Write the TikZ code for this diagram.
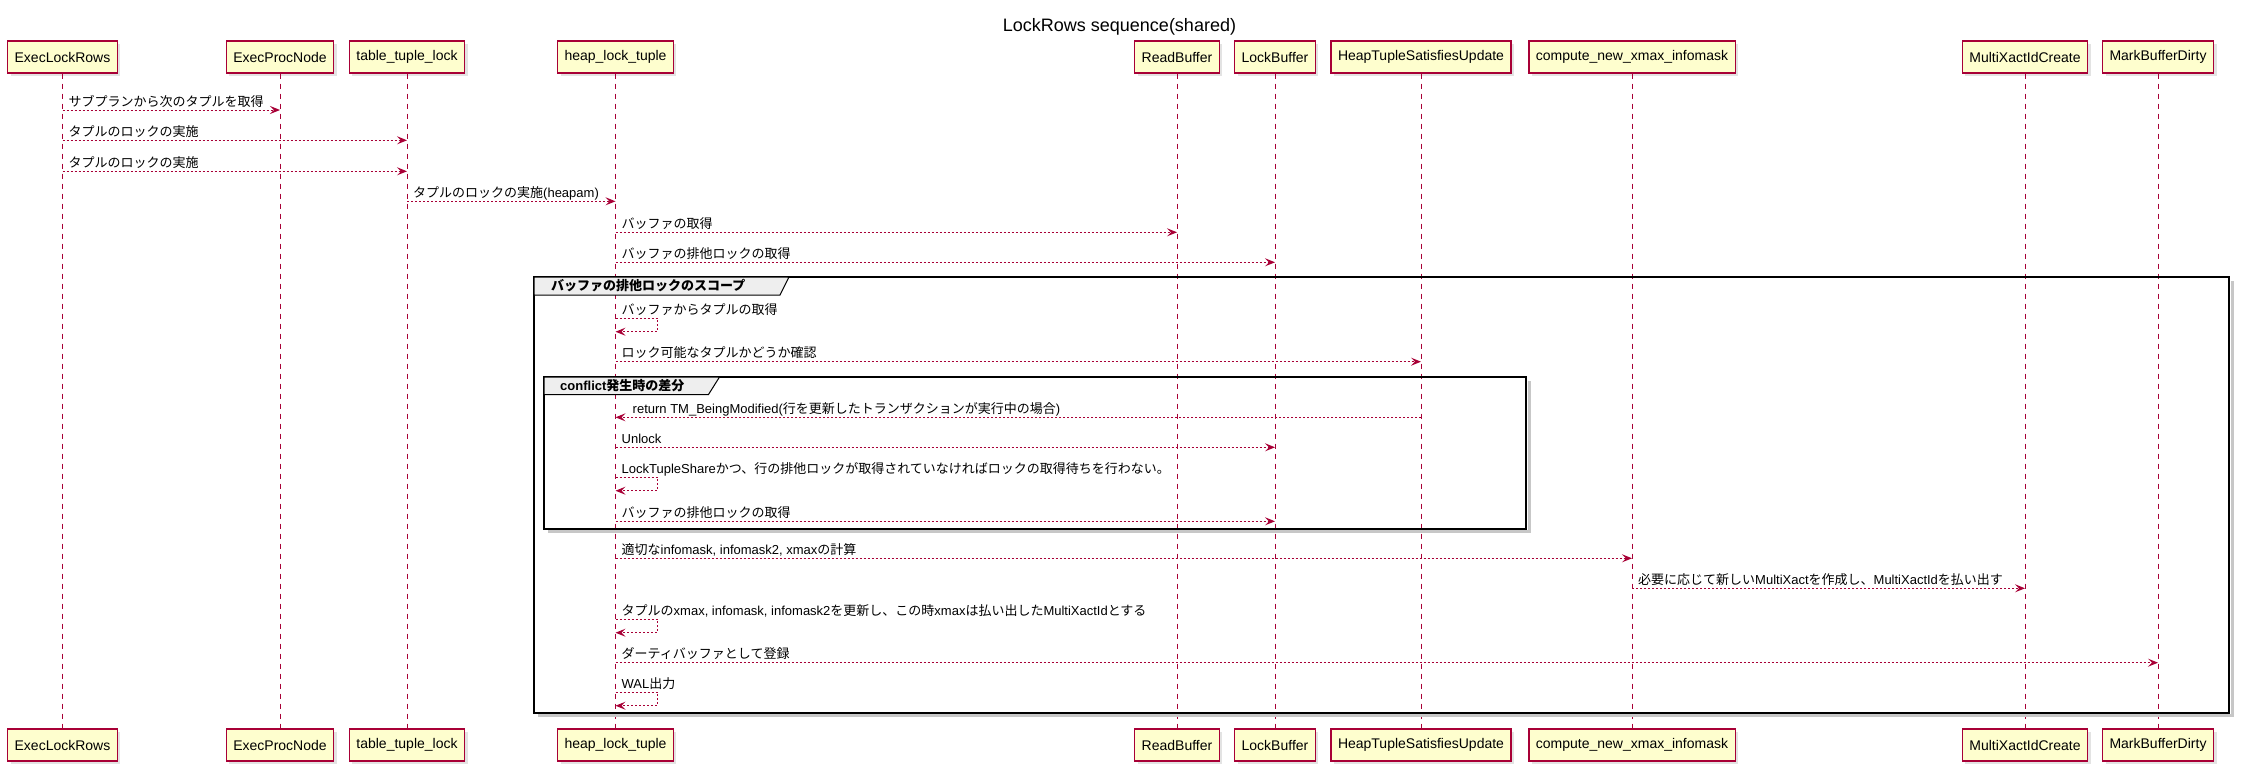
\documentclass[tikz,border=0pt]{standalone}
\usepackage{fontspec}
\setmainfont{Liberation Sans}
\newfontfamily\jp{Noto Sans CJK JP}
\usetikzlibrary{arrows.meta,shadows}

\definecolor{pumlred}{HTML}{A80036}
\definecolor{pumlbox}{HTML}{FEFECE}
\definecolor{grouphead}{HTML}{EEEEEE}

\tikzset{
	part/.style={draw=pumlred, line width=1.2pt, fill=pumlbox, minimum height=32pt, inner xsep=7pt,
		font=\fontsize{14pt}{16pt}\selectfont,
		drop shadow={shadow xshift=3pt, shadow yshift=-3pt, fill=black!22}},
	lifeline/.style={draw=pumlred, line width=1pt, dash pattern=on 5pt off 5pt},
	msgline/.style={draw=pumlred, line width=1pt, dash pattern=on 2pt off 2pt,
		-{Stealth[length=10pt,width=8pt,inset=4pt]}},
	msgtext/.style={anchor=base west, inner sep=0pt, font=\fontsize{13pt}{15pt}\selectfont, xshift=6pt, yshift=4pt},
	groupbox/.style={draw=black, line width=1.8pt},
	groupshade/.style={draw=black!22, line width=3pt},
	grouptab/.style={draw=black, line width=1pt, fill=grouphead},
	grouplabel/.style={anchor=west, inner sep=0pt, font=\fontsize{13pt}{15pt}\selectfont\bfseries},
}

% arrow from lifeline to lifeline: from, to, y, text
\newcommand{\seqmsg}[4]{%
	\draw[msgline] (#1 |- 0,#3) -- (#2 |- 0,#3);
	\node[msgtext] at (#1 |- 0,#3) {#4};}
% arrow back to the same lifeline: who, y, text
\newcommand{\selfmsg}[3]{%
	\draw[msgline] (#1 |- 0,#2) -- ++(42,0) -- ++(0,13.4) -- ++(-42,0);
	\node[msgtext] at (#1 |- 0,#2) {#3};}

\begin{document}
\begin{tikzpicture}[x=1pt, y=-1pt]
	\useasboundingbox (0,0) rectangle (2241,774);
	
	\node[font=\fontsize{18pt}{20pt}\selectfont, anchor=base, inner sep=0pt] (title) at (1119.5,31.7) {LockRows sequence(shared)};
	
	% participants, top and bottom
	\node[part] (elr) at (62.5,57) {ExecLockRows};
	\node[part] (epn) at (280,57) {ExecProcNode};
	\node[part] (ttl) at (407,57) {table\_tuple\_lock};
	\node[part] (hlt) at (615.5,57) {heap\_lock\_tuple};
	\node[part] (rb) at (1177,57) {ReadBuffer};
	\node[part] (lb) at (1275,57) {LockBuffer};
	\node[part] (htsu) at (1421,57) {HeapTupleSatisfiesUpdate};
	\node[part] (cnxi) at (1632,57) {compute\_new\_xmax\_infomask};
	\node[part] (mxc) at (2025,57) {MultiXactIdCreate};
	\node[part] (mbd) at (2158,57) {MarkBufferDirty};
	
	\node[part] (elrb) at (62.5,745) {ExecLockRows};
	\node[part] (epnb) at (280,745) {ExecProcNode};
	\node[part] (ttlb) at (407,745) {table\_tuple\_lock};
	\node[part] (hltb) at (615.5,745) {heap\_lock\_tuple};
	\node[part] (rbb) at (1177,745) {ReadBuffer};
	\node[part] (lbb) at (1275,745) {LockBuffer};
	\node[part] (htsub) at (1421,745) {HeapTupleSatisfiesUpdate};
	\node[part] (cnxib) at (1632,745) {compute\_new\_xmax\_infomask};
	\node[part] (mxcb) at (2025,745) {MultiXactIdCreate};
	\node[part] (mbdb) at (2158,745) {MarkBufferDirty};
	
	\foreach \p in {elr,epn,ttl,hlt,rb,lb,htsu,cnxi,mxc,mbd}
	\draw[lifeline] (\p) -- (\p b);
	
	% scope of the exclusive buffer lock
	\draw[groupshade] (538,715.5) -- (2232,715.5) -- (2232,281);
	\draw[groupbox] (534,277) rectangle (2229,712.7);
	\draw[grouptab] (534,277) -- (789,277) -- (780,295) -- (534,295) -- cycle;
	\node[grouplabel] (scope) at (551,286) {\jp バッファの排他ロックのスコープ};
	
	% conflict case
	\draw[groupshade] (548,531.5) -- (1529,531.5) -- (1529,381);
	\draw[groupbox] (544,377) rectangle (1526,529);
	\draw[grouptab] (544,377) -- (719.5,377) -- (708.5,394.5) -- (544,394.5) -- cycle;
	\node[grouplabel] (conflict) at (560,386) {conflict{\jp 発生時の差分}};
	
	% messages
	\seqmsg{elr}{epn}{110}{\jp サブプランから次のタプルを取得}
	\seqmsg{elr}{ttl}{140.3}{\jp タプルのロックの実施}
	\seqmsg{elr}{ttl}{171.3}{\jp タプルのロックの実施}
	\seqmsg{ttl}{hlt}{201.3}{{\jp タプルのロックの実施}(heapam)}
	\seqmsg{hlt}{rb}{232.3}{\jp バッファの取得}
	\seqmsg{hlt}{lb}{262.3}{\jp バッファの排他ロックの取得}
	\selfmsg{hlt}{318.3}{\jp バッファからタプルの取得}
	\seqmsg{hlt}{htsu}{361.7}{\jp ロック可能なタプルかどうか確認}
	
	\draw[msgline] (htsu |- 0,417.3) -- (hlt |- 0,417.3);
	\node[msgtext, xshift=11pt] at (hlt |- 0,417.3)
	{return TM\_BeingModified({\jp 行を更新したトランザクションが実行中の場合})};
	\seqmsg{hlt}{lb}{447.3}{Unlock}
	\selfmsg{hlt}{477.3}{LockTupleShare{\jp かつ、行の排他ロックが取得されていなければロックの取得待ちを行わない。}}
	\seqmsg{hlt}{lb}{521.3}{\jp バッファの排他ロックの取得}
	
	\seqmsg{hlt}{cnxi}{558.3}{{\jp 適切な}infomask, infomask2, xmax{\jp の計算}}
	\seqmsg{cnxi}{mxc}{588.3}{{\jp 必要に応じて新しい}MultiXact{\jp を作成し、}MultiXactId{\jp を払い出す}}
	\selfmsg{hlt}{619.3}{{\jp タプルの}xmax, infomask, infomask2{\jp を更新し、この時}xmax{\jp は払い出した}MultiXactId{\jp とする}}
	\seqmsg{hlt}{mbd}{662.7}{\jp ダーティバッファとして登録}
	\selfmsg{hlt}{692.3}{WAL{\jp 出力}}
\end{tikzpicture}
\end{document}
